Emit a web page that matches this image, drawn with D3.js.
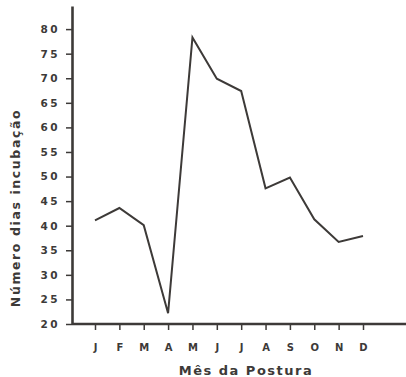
<!DOCTYPE html>
<html><head><meta charset="utf-8">
<script src="https://cdn.jsdelivr.net/npm/d3@7"></script>
<style>body{margin:0;background:#fff}svg{display:block}</style>
</head><body>
<svg id="c" width="406" height="377"></svg>
<script>
const months = ["J","F","M","A","M","J","J","A","S","O","N","D"];
const values = [41.1,43.6,40.1,22.2,78.3,69.9,67.4,47.6,49.8,41.3,36.7,37.9];
const yTicks = [20,25,30,35,40,45,50,55,60,65,70,75,80];
const xTitle = "Mês da Postura";
const yTitle = "Número dias incubação";

const svg = d3.select("#c");
const ink = "#3d3a38";
const font = "'DejaVu Sans', sans-serif";
const idx = months.map((d,i)=>i);
const x = d3.scalePoint().domain(idx).range([95,363]);
const y = d3.scaleLinear().domain([20,84.7]).range([324,6]);

// y axis
const ya = svg.append("g").attr("transform","translate(72,0)")
  .call(d3.axisLeft(y).tickValues(yTicks).tickSize(6).tickSizeOuter(0).tickPadding(8));
ya.select(".domain").attr("stroke",ink).attr("stroke-width",2.6);
ya.selectAll(".tick line").attr("stroke",ink).attr("stroke-width",1.5);
ya.selectAll(".tick text").attr("fill",ink).attr("font-family",font).attr("font-weight","bold")
  .attr("font-size",10.5).attr("letter-spacing","2.5px").attr("dx","2");

// x axis
const xa = svg.append("g").attr("transform","translate(0,324)")
  .call(d3.axisBottom(x).tickFormat(i=>months[i]).tickSize(6).tickSizeOuter(0).tickPadding(14));
xa.select(".domain").attr("d","M72,0H406").attr("stroke",ink).attr("stroke-width",2.6);
xa.selectAll(".tick line").attr("stroke",ink).attr("stroke-width",1.5);
xa.selectAll(".tick text").attr("fill",ink).attr("font-family",font).attr("font-weight","bold")
  .attr("font-size",10);

// line
const line = d3.line().x((d,i)=>x(i)).y(d=>y(d));
svg.append("path").datum(values).attr("d",line).attr("fill","none")
  .attr("stroke",ink).attr("stroke-width",2).attr("stroke-linejoin","miter");

// titles
svg.append("text").attr("x",246).attr("y",375).attr("text-anchor","middle")
  .attr("font-family",font).attr("font-weight","bold").attr("font-size",13)
  .attr("letter-spacing","1.5px").attr("fill",ink).text(xTitle);
svg.append("text").attr("transform","translate(20,208) rotate(-90)").attr("text-anchor","middle")
  .attr("font-family",font).attr("font-weight","bold").attr("font-size",12.5)
  .attr("letter-spacing","1.6px").attr("fill",ink).text(yTitle);
</script>
</body></html>
